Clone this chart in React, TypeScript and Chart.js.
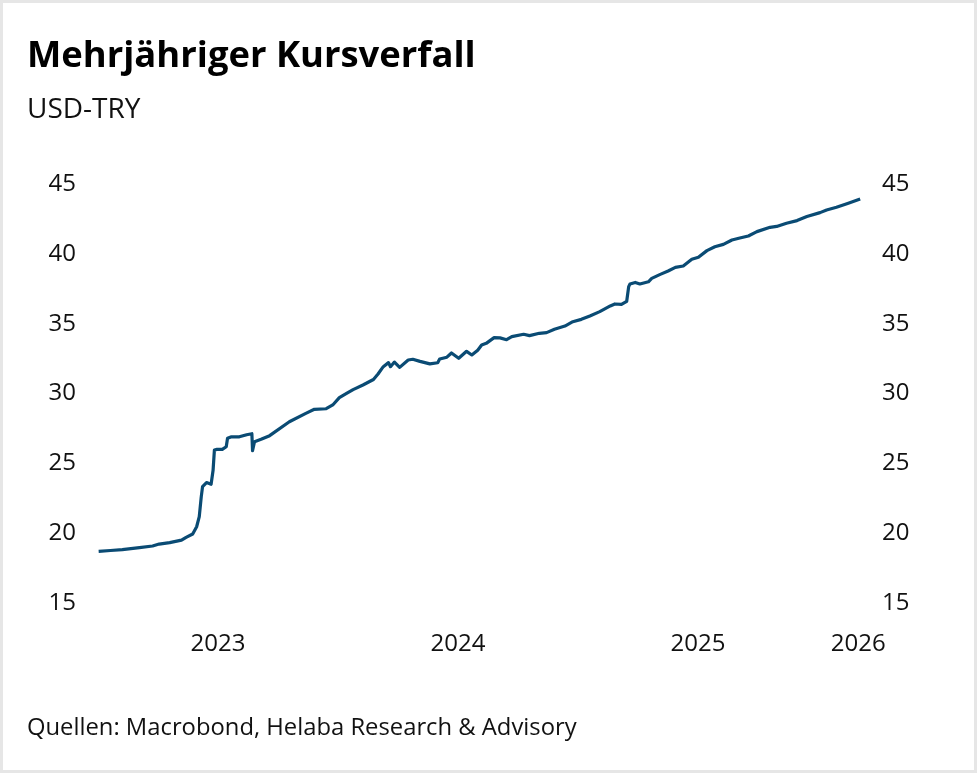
import React, { useEffect, useRef } from "react";
import { Chart, registerables } from "chart.js";

Chart.register(...registerables);

// ---- Data ----
const dates: string[] = [
  "2023-01-02", "2023-01-20", "2023-02-07", "2023-03-05", "2023-03-25", "2023-04-04", "2023-04-20",
  "2023-05-08", "2023-05-15", "2023-05-25", "2023-05-31", "2023-06-04", "2023-06-07", "2023-06-09",
  "2023-06-15", "2023-06-22", "2023-06-25", "2023-06-27", "2023-07-01", "2023-07-09", "2023-07-15",
  "2023-07-17", "2023-07-23", "2023-08-04", "2023-08-15", "2023-08-23", "2023-08-24", "2023-08-27",
  "2023-09-06", "2023-09-19", "2023-10-19", "2023-11-13", "2023-11-26", "2023-12-14", "2023-12-24",
  "2024-01-03", "2024-01-14", "2024-01-24", "2024-02-08", "2024-02-24", "2024-03-02", "2024-03-10",
  "2024-03-18", "2024-03-21", "2024-03-27", "2024-04-04", "2024-04-17", "2024-04-24", "2024-05-05",
  "2024-05-20", "2024-06-01", "2024-06-04", "2024-06-15", "2024-06-22", "2024-07-03", "2024-07-15",
  "2024-07-23", "2024-08-01", "2024-08-07", "2024-08-14", "2024-08-26", "2024-09-04", "2024-09-14",
  "2024-09-22", "2024-10-10", "2024-10-19", "2024-11-03", "2024-11-14", "2024-11-26", "2024-12-12",
  "2024-12-24", "2025-01-06", "2025-01-19", "2025-02-03", "2025-02-19", "2025-02-26", "2025-03-08",
  "2025-03-16", "2025-03-19", "2025-03-21", "2025-03-29", "2025-04-05", "2025-04-18", "2025-04-23",
  "2025-05-06", "2025-05-18", "2025-05-29", "2025-06-10", "2025-06-23", "2025-07-03", "2025-07-16",
  "2025-07-28", "2025-08-10", "2025-08-23", "2025-09-04", "2025-09-17", "2025-09-30", "2025-10-20",
  "2025-10-30", "2025-11-14", "2025-11-30", "2025-12-15", "2026-01-04", "2026-01-14", "2026-01-29",
  "2026-02-16", "2026-03-06",
];

const usdTry: number[] = [
  18.70, 18.76, 18.82, 18.96, 19.08, 19.22, 19.32,
  19.50, 19.70, 19.94, 20.46, 21.18, 22.60, 23.33,
  23.62, 23.50, 24.50, 25.95, 26.00, 26.00, 26.19,
  26.79, 26.90, 26.90, 27.05, 27.12, 25.90, 26.55,
  26.72, 26.98, 27.98, 28.58, 28.87, 28.91, 29.18,
  29.70, 30.01, 30.28, 30.61, 31.00, 31.40, 31.92,
  32.21, 31.92, 32.25, 31.87, 32.40, 32.45, 32.30,
  32.12, 32.20, 32.47, 32.60, 32.90, 32.52, 33.02,
  32.76, 33.10, 33.47, 33.59, 34.00, 33.98, 33.85,
  34.07, 34.24, 34.14, 34.31, 34.36, 34.60, 34.83,
  35.14, 35.31, 35.55, 35.86, 36.27, 36.41, 36.38,
  36.60, 37.65, 37.84, 37.95, 37.84, 38.00, 38.24,
  38.53, 38.77, 39.03, 39.13, 39.61, 39.75, 40.23,
  40.51, 40.68, 40.99, 41.13, 41.28, 41.59, 41.90,
  41.96, 42.19, 42.38, 42.67, 42.95, 43.14, 43.33,
  43.62, 43.93,
];

const yearLabels: number[] = [2023, 2024, 2025, 2026];
const yTicks: number[] = [15, 20, 25, 30, 35, 40, 45];

const TITLE = "Mehrjähriger Kursverfall";
const SUBTITLE = "USD-TRY";
const SOURCE = "Quellen: Macrobond, Helaba Research & Advisory";

const X_MIN = 2023.0;
const X_MAX = 2026.183;

function toDecimalYear(s: string): number {
  const [y, m, d] = s.split("-").map(Number);
  const start = Date.UTC(y, 0, 1);
  const end = Date.UTC(y + 1, 0, 1);
  return y + (Date.UTC(y, m - 1, d) - start) / (end - start);
}

const LINE_COLOR = "#0a4b74";
const FONT = "'Open Sans', 'Noto Sans', sans-serif";

export default function App() {
  const canvasRef = useRef<HTMLCanvasElement | null>(null);

  useEffect(() => {
    document.body.style.margin = "0";
    const canvas = canvasRef.current;
    if (!canvas) return;
    const points = dates.map((d, i) => ({ x: toDecimalYear(d), y: usdTry[i] }));
    const tickFont = { family: FONT, size: 24 };

    const chart = new Chart(canvas, {
      type: "line",
      data: {
        datasets: [
          {
            label: SUBTITLE,
            data: points,
            borderColor: LINE_COLOR,
            backgroundColor: LINE_COLOR,
            borderWidth: 3.2,
            pointRadius: 0,
            tension: 0,
            borderJoinStyle: "round",
            yAxisID: "y",
          },
        ],
      },
      options: {
        responsive: false,
        animation: false,
        layout: { padding: { top: 184, left: 0, right: 0, bottom: 0 } },
        plugins: {
          legend: { display: false },
          tooltip: { enabled: false },
          title: { display: false },
        },
        scales: {
          x: {
            type: "linear",
            min: X_MIN,
            max: X_MAX,
            grid: { display: false, drawTicks: false },
            border: { display: false },
            afterBuildTicks: (scale: any) => {
              scale.ticks = yearLabels.map((yr) => ({
                value: Math.min(yr + 0.5, X_MAX - 0.016),
                label: String(yr),
              }));
            },
            ticks: {
              font: tickFont,
              color: "#111",
              padding: 27,
              maxRotation: 0,
              autoSkip: false,
              callback: (v: any) => String(Math.floor(Number(v))),
            },
            afterFit: (scale: any) => {
              scale.height = 170;
            },
          },
          y: {
            position: "left",
            min: 15,
            max: 45,
            grid: { display: false, drawTicks: false },
            border: { display: false },
            afterBuildTicks: (scale: any) => {
              scale.ticks = yTicks.map((v) => ({ value: v }));
            },
            ticks: { font: tickFont, color: "#111", padding: 22 },
            afterFit: (scale: any) => {
              scale.width = 98;
            },
          },
          y2: {
            position: "right",
            min: 15,
            max: 45,
            grid: { display: false, drawTicks: false },
            border: { display: false },
            afterBuildTicks: (scale: any) => {
              scale.ticks = yTicks.map((v) => ({ value: v }));
            },
            ticks: { font: tickFont, color: "#111", padding: 20 },
            afterFit: (scale: any) => {
              scale.width = 115;
            },
          },
        },
      },
    } as any);

    return () => chart.destroy();
  }, []);

  return (
    <div style={{ position: "relative", width: 977, height: 773, background: "#fff", overflow: "hidden" }}>
      <canvas
        ref={canvasRef}
        width={977}
        height={773}
        style={{ position: "absolute", left: 0, top: 0, width: 977, height: 773 }}
      />
      <div
        style={{
          position: "absolute",
          left: 27,
          top: 35,
          fontFamily: FONT,
          fontWeight: 700,
          fontSize: 36.4,
          lineHeight: "37px",
          color: "#000",
          whiteSpace: "nowrap",
        }}
      >
        {TITLE}
      </div>
      <div
        style={{
          position: "absolute",
          left: 27,
          top: 93,
          fontFamily: FONT,
          fontSize: 28,
          lineHeight: "28px",
          color: "#111",
          whiteSpace: "nowrap",
        }}
      >
        {SUBTITLE}
      </div>
      <div
        style={{
          position: "absolute",
          left: 27,
          top: 714,
          fontFamily: FONT,
          fontSize: 23.8,
          lineHeight: "24px",
          color: "#111",
          whiteSpace: "nowrap",
        }}
      >
        {SOURCE}
      </div>
      <div
        style={{
          position: "absolute",
          left: 0,
          top: 0,
          width: 977,
          height: 773,
          boxSizing: "border-box",
          border: "3px solid #e6e6e6",
          pointerEvents: "none",
        }}
      />
    </div>
  );
}
